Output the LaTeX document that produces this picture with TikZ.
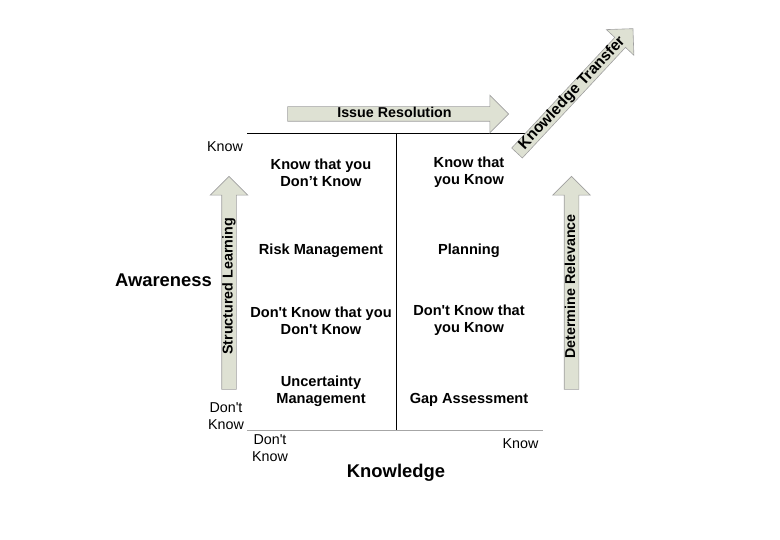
\documentclass[tikz,border=0pt]{standalone}
\usepackage{fontspec}
\setmainfont{Liberation Sans}
\usetikzlibrary{shapes.arrows}
\definecolor{arrowfill}{RGB}{222,225,211}
\definecolor{arrowedge}{RGB}{160,160,160}
\tikzset{
  bigarrow/.style={single arrow, fill=arrowfill, draw=arrowedge, line width=0.6pt,
    font=\bfseries\fontsize{14.3}{17}\selectfont, text height=10pt, text depth=3pt,
    inner sep=0.5pt, single arrow head extend=11.5pt},
  cell/.style={font=\bfseries\fontsize{14.6}{17}\selectfont, align=center},
  tick/.style={font=\fontsize{14.3}{17}\selectfont, align=center},
  axis/.style={font=\bfseries\fontsize{18.4}{22}\selectfont}
}
\begin{document}
\begin{tikzpicture}[x=1pt,y=-1pt]
\useasboundingbox (0,0) rectangle (780,540);
% grid
\coordinate (tl) at (247,133);
\coordinate (tr) at (535,133);
\coordinate (mt) at (396,133);
\coordinate (mb) at (396,430);
\coordinate (bl) at (247,430);
\coordinate (br) at (543,430);
\draw (tl)--(tr);
\draw (mt)--(mb);
\draw[gray!70] (bl)--(br);
% arrows
\node[bigarrow, minimum height=221pt] (issue) at (394.5,114) {Issue Resolution};
\node[bigarrow, minimum height=213pt, rotate=90] (learn) at (229,286.5) {Structured Learning};
\node[bigarrow, minimum height=213pt, rotate=90] (relev) at (571.5,286.5) {Determine Relevance};
\node[bigarrow, minimum height=170pt, rotate=47, font=\bfseries\fontsize{15.5}{17}\selectfont] (transfer) at (572.5,93.5) {Knowledge Transfer};
% axis labels
\node[tick, anchor=base] (knowtop) at (225,152) {Know};
\node[tick] (dkleft) at (226,416.5) {Don\textquotesingle t\\Know};
\node[axis, anchor=base] (aware) at (163.5,287) {Awareness};
\node[tick] (dkbottom) at (270,448.5) {Don\textquotesingle t\\Know};
\node[tick, anchor=base] (knowright) at (520.5,448) {Know};
\node[axis, anchor=base] (knowl) at (396,477) {Knowledge};
% quadrants
\node[cell] (kdk) at (321,172.5) {Know that you\\Don’t Know};
\node[cell] (kyk) at (469,172.5) {Know that\\you Know};
\node[cell] (risk) at (321,251) {Risk Management};
\node[cell] (plan) at (469,251) {Planning};
\node[cell] (dkdk) at (321,320.5) {Don\textquotesingle t Know that you\\Don\textquotesingle t Know};
\node[cell] (dkk) at (469,320.5) {Don\textquotesingle t Know that\\you Know};
\node[cell] (unc) at (321,391) {Uncertainty\\Management};
\node[cell] (gap) at (469,400) {Gap Assessment};
\end{tikzpicture}
\end{document}
